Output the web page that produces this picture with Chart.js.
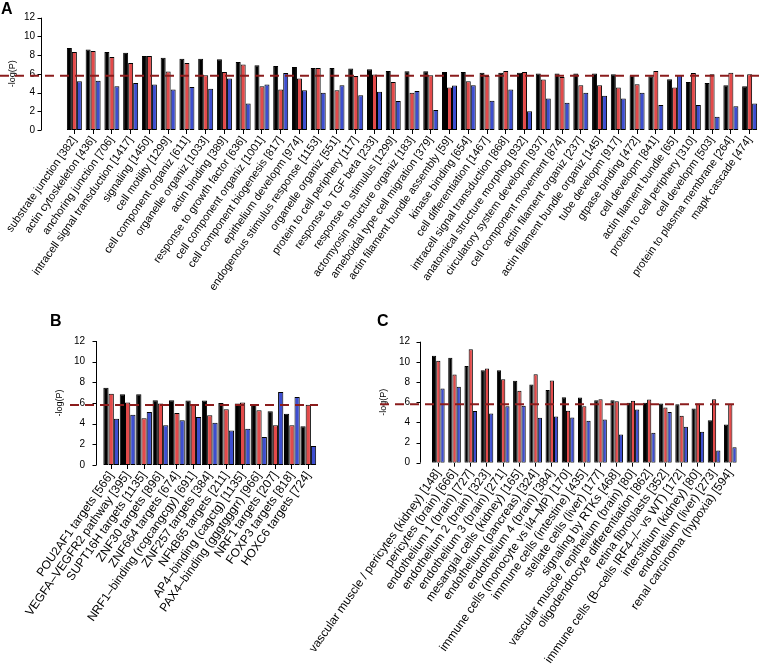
<!DOCTYPE html>
<html>
<head>
<meta charset="utf-8">
<script src="https://cdn.jsdelivr.net/npm/chart.js@4.4.1/dist/chart.umd.min.js"></script>
<style>
  body { margin: 0; background: #fff; width: 764px; height: 665px; position: relative; overflow: hidden;
         font-family: 'Liberation Sans', Arial, sans-serif; }
  canvas { position: absolute; }
  .tag { position: absolute; font-weight: bold; font-size: 16px; line-height: 1; color: #000; }
</style>
</head>
<body>
<canvas id="chartA" width="764" height="310" style="left:0;top:0"></canvas>
<canvas id="chartB" width="380" height="345" style="left:0;top:320px"></canvas>
<canvas id="chartC" width="464" height="345" style="left:300px;top:320px"></canvas>
<div class="tag" style="left:1px;top:1px">A</div>
<div class="tag" style="left:50px;top:313px">B</div>
<div class="tag" style="left:377px;top:313px">C</div>
<script>
const threshold = 5.8;

// panel A
const aLabels = ['substrate junction [382]', 'actin cytoskeleton [436]', 'anchoring junction [706]',
  'intracell signal transduction [1417]', 'signaling [1450]', 'cell motility [1299]',
  'cell component organiz [611]', 'organelle organiz [1033]', 'actin binding [389]',
  'response to growth factor [636]', 'cell component organiz [1001]', 'cell component biogenesis [817]',
  'epithelium developm [974]', 'endogenous stimulus response [1153]', 'organelle organiz [551]',
  'protein to cell periphery [117]', 'response to TGF beta [233]', 'response to stimulus [1299]',
  'actomyosin structure organiz [183]', 'ameboidal type cell migration [379]',
  'actin filament bundle assembly [59]', 'kinase binding [654]', 'cell differentiation [1467]',
  'intracell signal transduction [868]', 'anatomical structure morphog [932]',
  'circulatory system developm [937]', 'cell component movement [874]', 'actin filament organiz [237]',
  'actin filament bundle organiz [145]', 'tube developm [917]', 'gtpase binding [472]',
  'cell developm [841]', 'actin filament bundle [65]', 'protein to cell periphery [310]',
  'cell developm [503]', 'protein to plasma membrane [264]', 'mapk cascade [474]'];
const aBlack = [8.76, 8.6, 8.33, 8.26, 7.9, 7.73, 7.62, 7.62, 7.55, 7.27, 6.92, 6.84, 6.74, 6.63, 6.63,
  6.56, 6.49, 6.31, 6.28, 6.28, 6.2, 6.2, 6.13, 6.13, 6.13, 6.03, 6.03, 6.03, 6.03, 5.96, 5.85, 5.74,
  5.43, 5.14, 5.03, 4.79, 4.68];
const aRed = [8.33, 8.45, 7.8, 7.16, 7.9, 6.24, 7.16, 5.85, 6.2, 7.0, 4.68, 4.33, 5.5, 6.63, 4.26,
  5.78, 5.92, 5.14, 3.97, 5.85, 4.54, 5.2, 5.78, 6.31, 6.2, 5.4, 5.67, 4.79, 4.79, 4.54, 4.9, 6.31,
  4.54, 6.1, 5.96, 6.13, 5.96];
const aBlue = [5.2, 5.25, 4.68, 5.03, 4.86, 4.33, 4.6, 4.4, 5.5, 2.84, 4.86, 6.1, 4.26, 3.97, 4.79,
  3.72, 4.08, 3.09, 4.18, 2.13, 4.75, 4.79, 3.12, 4.33, 2.0, 3.37, 2.9, 3.97, 3.65, 3.37, 3.97, 2.66,
  5.85, 2.66, 1.42, 2.55, 2.84];

// panel B
const bLabels = ['POU2AF1 targets [566]', 'VEGFA\u2013VEGFR2 pathway [395]', 'SUPT16H targets [1135]',
  'ZNF30 targets [896]', 'ZNF664 targets [674]', 'NRF1\u2013binding (rcgcangcgy) [691]',
  'ZNF257 targets [384]', 'NFkB65 targets [211]', 'AP4\u2013binding (cagctg) [1135]',
  'PAX4\u2013binding (gggtgggrr) [966]', 'NRF1 targets [207]', 'FOXP3 targets [818]', 'HOXC6 targets [724]'];
const bBlack = [7.48, 6.84, 6.84, 6.26, 6.26, 6.23, 6.23, 6.0, 5.94, 5.81, 5.19, 4.97, 3.74];
const bRed = [6.9, 6.06, 4.52, 5.94, 5.03, 5.84, 4.81, 5.39, 6.06, 5.29, 3.84, 3.84, 5.84];
const bBlue = [4.48, 4.87, 5.13, 3.84, 4.32, 4.65, 4.1, 3.35, 3.52, 2.71, 7.06, 6.58, 1.84];

// panel C
const cLabels = ['vascular muscle / pericytes (kidney) [148]', 'pericytes (brain) [666]',
  'endothelium 1 (brain) [727]', 'endothelium 2 (brain) [323]', 'endothelium 3 (brain) [271]',
  'mesangial cells (kidney) [165]', 'endothelium (pancreas) [324]', 'endothelium 4 (brain) [384]',
  'immune cells (monocyte vs il4\u2013MP) [170]', 'immune cells (intestine) [435]',
  'stellate cells (liver) [177]', 'signaling by RTKs [468]', 'vascular muscle / epithelium (brain) [80]',
  'oligodendrocyte differentiation [862]', 'retina fibroblasts [352]',
  'immune cells (B\u2013cells IRF4\u2013/\u2013 vs WT) [172]', 'interstitium (kidney) [80]',
  'endothelium (liver) [273]', 'renal carcinoma (hypoxia) [594]'];
const cBlack = [10.6, 10.4, 9.6, 9.17, 9.17, 8.12, 7.76, 7.2, 6.5, 6.47, 6.2, 6.2, 5.94, 5.94, 5.87,
  5.8, 5.38, 4.2, 3.8];
const cRed = [10.1, 8.75, 11.25, 9.34, 8.28, 7.13, 8.78, 8.15, 5.15, 5.6, 6.3, 6.1, 6.14, 6.27, 5.48,
  4.65, 5.87, 6.3, 5.8];
const cBlue = [7.36, 7.52, 5.12, 4.88, 5.61, 5.64, 4.46, 4.59, 4.49, 4.16, 4.29, 2.8, 5.28, 2.97, 5.02,
  3.56, 3.07, 1.2, 1.52];

const FONT = "'Liberation Sans', Arial, sans-serif";

// R style y axis (detached from the bars) and the dashed threshold line
const rAxis = {
  id: 'rAxis',
  afterDatasetsDraw(chart, args, opts) {
    const { ctx, scales: { y } } = chart;
    const ty = y.getPixelForValue(threshold);
    ctx.save();
    ctx.strokeStyle = '#8b1c1c';
    ctx.lineWidth = 2;
    ctx.setLineDash([9, 6]);
    ctx.beginPath();
    ctx.moveTo(opts.lineFrom, ty);
    ctx.lineTo(opts.lineTo, ty);
    ctx.stroke();
    ctx.restore();
  },
  afterDraw(chart, args, opts) {
    const { ctx, chartArea, scales: { y } } = chart;
    const x0 = Math.round(chartArea.left - opts.gap) + 0.5;
    ctx.save();
    ctx.strokeStyle = '#000';
    ctx.lineWidth = 1;
    ctx.beginPath();
    ctx.moveTo(x0, y.getPixelForValue(y.min));
    ctx.lineTo(x0, y.getPixelForValue(y.max));
    y.ticks.forEach(t => {
      const py = Math.round(y.getPixelForValue(t.value)) + 0.5;
      ctx.moveTo(x0 - 4, py);
      ctx.lineTo(x0, py);
    });
    ctx.stroke();
    ctx.restore();
  }
};

function makePanel(id, labels, black, red, blue, lay) {
  const bar = (data, color) => ({
    data, backgroundColor: color, borderColor: '#000', borderWidth: 1, borderSkipped: false,
    barPercentage: 1, categoryPercentage: lay.catPct
  });
  return new Chart(document.getElementById(id).getContext('2d'), {
    type: 'bar',
    data: { labels, datasets: [bar(black, '#000000'), bar(red, '#e34a4a'), bar(blue, '#3d4ed0')] },
    options: {
      responsive: false,
      animation: false,
      layout: { padding: { left: lay.padLeft, top: lay.padTop, right: lay.padRight, bottom: 0 } },
      plugins: {
        legend: { display: false },
        tooltip: { enabled: false },
        rAxis: { gap: lay.axisGap, lineFrom: lay.lineFrom, lineTo: lay.lineTo }
      },
      scales: {
        x: {
          grid: { display: true, offset: false, drawOnChartArea: false, drawTicks: true, tickLength: 4, color: '#000' },
          border: { display: false },
          ticks: { autoSkip: false, minRotation: 55, maxRotation: 55, padding: 0, color: '#000',
                   font: { family: FONT, size: lay.labelSize } },
          afterFit: s => { s.height = lay.xHeight; s.paddingLeft = 0; s.paddingRight = 0; }
        },
        y: {
          min: 0, max: 12,
          grid: { display: false, drawTicks: false },
          border: { display: false },
          ticks: { stepSize: 2, padding: lay.labelGap, color: '#000', font: { family: FONT, size: 10 } },
          title: { display: true, text: '-log(P)', color: '#000', font: { family: FONT, size: 9 },
                   padding: { top: lay.titlePad, bottom: 0 } },
          afterFit: s => { s.width = lay.yWidth; s.paddingTop = 0; s.paddingBottom = 0; }
        }
      }
    },
    plugins: [rAxis]
  });
}

makePanel('chartA', aLabels, aBlack, aRed, aBlue, {
  padLeft: 0, padTop: 17.7, padRight: 5, yWidth: 65, xHeight: 180, labelGap: 30, axisGap: 24,
  titlePad: 7, lineFrom: 0, lineTo: 764, catPct: 0.8, labelSize: 11
});
makePanel('chartB', bLabels, bBlack, bRed, bBlue, {
  padLeft: 0, padTop: 21, padRight: 63.5, yWidth: 103, xHeight: 200, labelGap: 18, axisGap: 7,
  titlePad: 54.6, lineFrom: 70, lineTo: 318, catPct: 0.96, labelSize: 12
});
makePanel('chartC', cLabels, cBlack, cRed, cBlue, {
  padLeft: 78, padTop: 21.7, padRight: 25.6, yWidth: 52.2, xHeight: 202.3, labelGap: 20.2, axisGap: 10.2,
  titlePad: 0, lineFrom: 80, lineTo: 437, catPct: 0.78, labelSize: 12
});
</script>
</body>
</html>
